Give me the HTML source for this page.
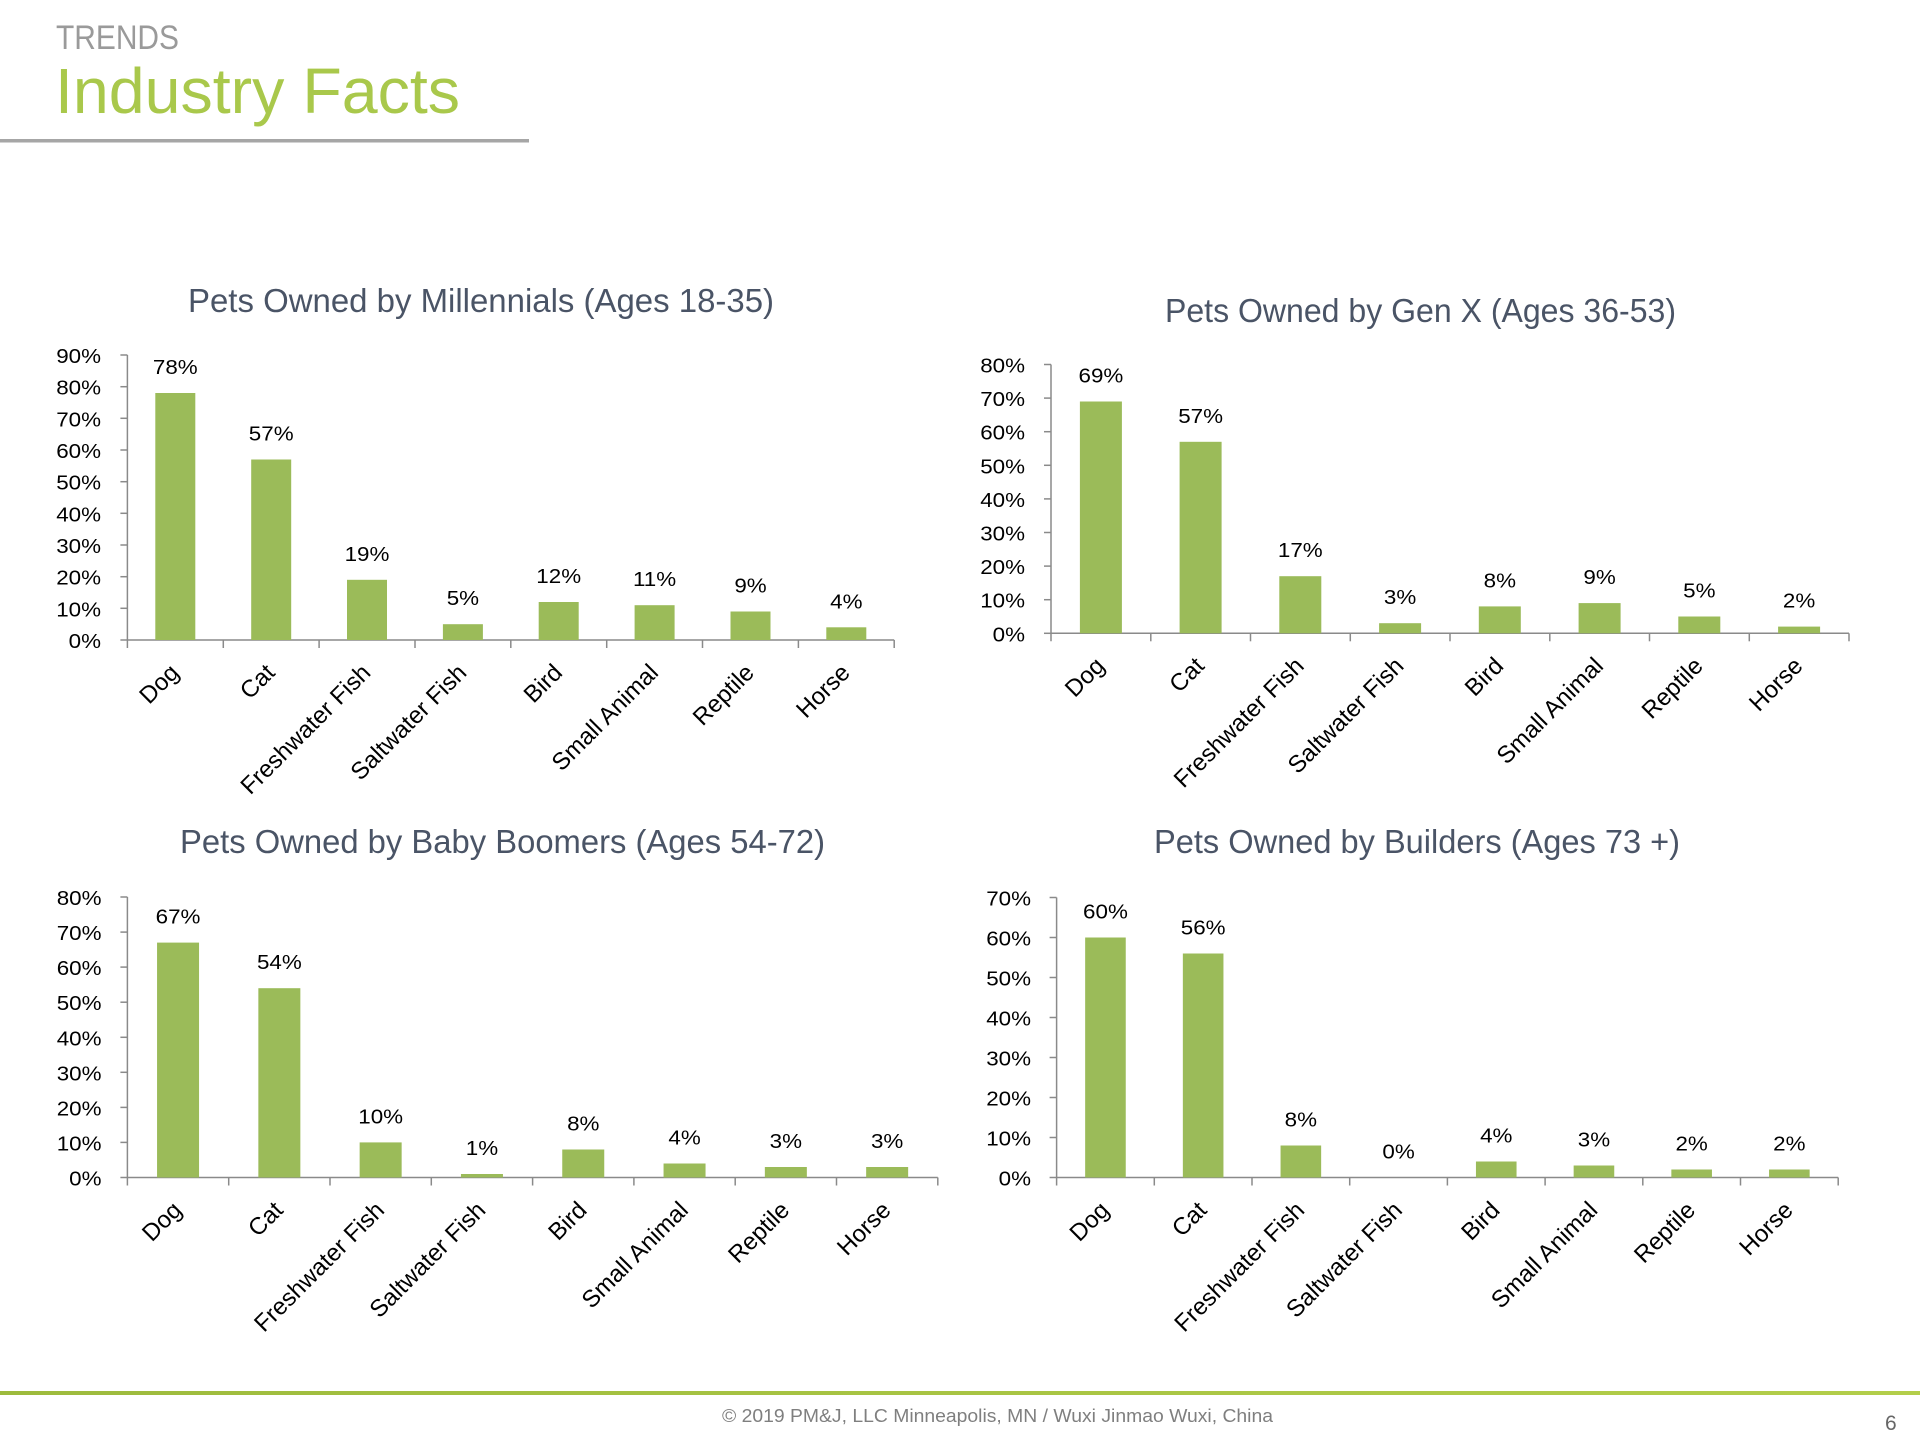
<!DOCTYPE html>
<html>
<head>
<meta charset="utf-8">
<style>
  html,body{margin:0;padding:0;background:#fff;}
  svg{display:block;}
  .tk{font-family:"Liberation Sans",sans-serif;font-size:20px;fill:#000;}
  .cat{font-family:"Liberation Sans",sans-serif;font-size:24px;fill:#000;}
  .ttl{font-family:"Liberation Sans",sans-serif;font-size:33px;fill:#4a5466;}
  .bar{fill:#9bbb59;}
  .ax{stroke:#8a8a8a;stroke-width:1.5;fill:none;}
</style>
</head>
<body>
<svg width="1920" height="1440" viewBox="0 0 1920 1440" xmlns="http://www.w3.org/2000/svg">
  <rect x="0" y="0" width="1920" height="1440" fill="#fff"/>

  <!-- Header -->
  <text x="56" y="49" font-family="Liberation Sans, sans-serif" font-size="34" fill="#9a9a9a" textLength="123" lengthAdjust="spacingAndGlyphs">TRENDS</text>
  <text x="55" y="113" font-family="Liberation Sans, sans-serif" font-size="64" fill="#a9c84b" textLength="405" lengthAdjust="spacingAndGlyphs">Industry Facts</text>
  <rect x="0" y="139" width="529" height="3.5" fill="#a6a6a6"/>

  <!-- ================= Chart 1: Millennials ================= -->
  <text class="ttl" x="481" y="312" text-anchor="middle" textLength="586" lengthAdjust="spacingAndGlyphs">Pets Owned by Millennials (Ages 18-35)</text>
  <g class="ax">
    <line x1="127.4" y1="355" x2="127.4" y2="648"/>
    <line x1="127.4" y1="640" x2="894.2" y2="640"/>
    <line x1="120.4" y1="640" x2="127.4" y2="640"/>
    <line x1="120.4" y1="608.3" x2="127.4" y2="608.3"/>
    <line x1="120.4" y1="576.7" x2="127.4" y2="576.7"/>
    <line x1="120.4" y1="545" x2="127.4" y2="545"/>
    <line x1="120.4" y1="513.3" x2="127.4" y2="513.3"/>
    <line x1="120.4" y1="481.7" x2="127.4" y2="481.7"/>
    <line x1="120.4" y1="450" x2="127.4" y2="450"/>
    <line x1="120.4" y1="418.3" x2="127.4" y2="418.3"/>
    <line x1="120.4" y1="386.7" x2="127.4" y2="386.7"/>
    <line x1="120.4" y1="355" x2="127.4" y2="355"/>
    <line x1="223.3" y1="640" x2="223.3" y2="648"/>
    <line x1="319.1" y1="640" x2="319.1" y2="648"/>
    <line x1="415.0" y1="640" x2="415.0" y2="648"/>
    <line x1="510.8" y1="640" x2="510.8" y2="648"/>
    <line x1="606.7" y1="640" x2="606.7" y2="648"/>
    <line x1="702.5" y1="640" x2="702.5" y2="648"/>
    <line x1="798.4" y1="640" x2="798.4" y2="648"/>
    <line x1="894.2" y1="640" x2="894.2" y2="648"/>
  </g>
  <g class="tk" text-anchor="end">
    <text transform="translate(101,648) scale(1.12,1)">0%</text>
    <text transform="translate(101,616.3) scale(1.12,1)">10%</text>
    <text transform="translate(101,584.7) scale(1.12,1)">20%</text>
    <text transform="translate(101,553) scale(1.12,1)">30%</text>
    <text transform="translate(101,521.3) scale(1.12,1)">40%</text>
    <text transform="translate(101,489.7) scale(1.12,1)">50%</text>
    <text transform="translate(101,458) scale(1.12,1)">60%</text>
    <text transform="translate(101,426.3) scale(1.12,1)">70%</text>
    <text transform="translate(101,394.7) scale(1.12,1)">80%</text>
    <text transform="translate(101,363) scale(1.12,1)">90%</text>
  </g>
  <g>
    <rect class="bar" x="155.3" y="393.0" width="40" height="247.0"/>
    <rect class="bar" x="251.2" y="459.5" width="40" height="180.5"/>
    <rect class="bar" x="347.0" y="579.8" width="40" height="60.2"/>
    <rect class="bar" x="442.9" y="624.2" width="40" height="15.8"/>
    <rect class="bar" x="538.7" y="602.0" width="40" height="38.0"/>
    <rect class="bar" x="634.6" y="605.2" width="40" height="34.8"/>
    <rect class="bar" x="730.5" y="611.5" width="40" height="28.5"/>
    <rect class="bar" x="826.3" y="627.3" width="40" height="12.7"/>
  </g>
  <g class="tk" text-anchor="middle">
    <text transform="translate(175.3,374.0) scale(1.12,1)">78%</text>
    <text transform="translate(271.2,440.5) scale(1.12,1)">57%</text>
    <text transform="translate(367.0,560.8) scale(1.12,1)">19%</text>
    <text transform="translate(462.9,605.2) scale(1.12,1)">5%</text>
    <text transform="translate(558.7,583.0) scale(1.12,1)">12%</text>
    <text transform="translate(654.6,586.2) scale(1.12,1)">11%</text>
    <text transform="translate(750.5,592.5) scale(1.12,1)">9%</text>
    <text transform="translate(846.3,608.3) scale(1.12,1)">4%</text>
  </g>
  <g class="cat" text-anchor="end">
    <text transform="translate(180.3,674) rotate(-45)">Dog</text>
    <text transform="translate(276.2,674) rotate(-45)">Cat</text>
    <text transform="translate(372.0,674) rotate(-45)">Freshwater Fish</text>
    <text transform="translate(467.9,674) rotate(-45)">Saltwater Fish</text>
    <text transform="translate(563.7,674) rotate(-45)">Bird</text>
    <text transform="translate(659.6,674) rotate(-45)">Small Animal</text>
    <text transform="translate(755.5,674) rotate(-45)">Reptile</text>
    <text transform="translate(851.3,674) rotate(-45)">Horse</text>
  </g>

  <!-- ================= Chart 2: Gen X ================= -->
  <text class="ttl" x="1420.5" y="322" text-anchor="middle" textLength="511" lengthAdjust="spacingAndGlyphs">Pets Owned by Gen X (Ages 36-53)</text>
  <g class="ax">
    <line x1="1051" y1="364.5" x2="1051" y2="641.3"/>
    <line x1="1051" y1="633.3" x2="1849" y2="633.3"/>
    <line x1="1044" y1="633.3" x2="1051" y2="633.3"/>
    <line x1="1044" y1="599.7" x2="1051" y2="599.7"/>
    <line x1="1044" y1="566.1" x2="1051" y2="566.1"/>
    <line x1="1044" y1="532.5" x2="1051" y2="532.5"/>
    <line x1="1044" y1="498.9" x2="1051" y2="498.9"/>
    <line x1="1044" y1="465.3" x2="1051" y2="465.3"/>
    <line x1="1044" y1="431.7" x2="1051" y2="431.7"/>
    <line x1="1044" y1="398.1" x2="1051" y2="398.1"/>
    <line x1="1044" y1="364.5" x2="1051" y2="364.5"/>
    <line x1="1150.8" y1="633.3" x2="1150.8" y2="641.3"/>
    <line x1="1250.5" y1="633.3" x2="1250.5" y2="641.3"/>
    <line x1="1350.3" y1="633.3" x2="1350.3" y2="641.3"/>
    <line x1="1450" y1="633.3" x2="1450" y2="641.3"/>
    <line x1="1549.8" y1="633.3" x2="1549.8" y2="641.3"/>
    <line x1="1649.5" y1="633.3" x2="1649.5" y2="641.3"/>
    <line x1="1749.3" y1="633.3" x2="1749.3" y2="641.3"/>
    <line x1="1849" y1="633.3" x2="1849" y2="641.3"/>
  </g>
  <g class="tk" text-anchor="end">
    <text transform="translate(1025,641.3) scale(1.12,1)">0%</text>
    <text transform="translate(1025,607.7) scale(1.12,1)">10%</text>
    <text transform="translate(1025,574.1) scale(1.12,1)">20%</text>
    <text transform="translate(1025,540.5) scale(1.12,1)">30%</text>
    <text transform="translate(1025,506.9) scale(1.12,1)">40%</text>
    <text transform="translate(1025,473.3) scale(1.12,1)">50%</text>
    <text transform="translate(1025,439.7) scale(1.12,1)">60%</text>
    <text transform="translate(1025,406.1) scale(1.12,1)">70%</text>
    <text transform="translate(1025,372.5) scale(1.12,1)">80%</text>
  </g>
  <g>
    <rect class="bar" x="1079.9" y="401.5" width="42" height="231.8"/>
    <rect class="bar" x="1179.6" y="441.8" width="42" height="191.5"/>
    <rect class="bar" x="1279.3" y="576.2" width="42" height="57.1"/>
    <rect class="bar" x="1379.1" y="623.2" width="42" height="10.1"/>
    <rect class="bar" x="1478.8" y="606.4" width="42" height="26.9"/>
    <rect class="bar" x="1578.6" y="603.1" width="42" height="30.2"/>
    <rect class="bar" x="1678.3" y="616.5" width="42" height="16.8"/>
    <rect class="bar" x="1778.1" y="626.6" width="42" height="6.7"/>
  </g>
  <g class="tk" text-anchor="middle">
    <text transform="translate(1100.9,382.5) scale(1.12,1)">69%</text>
    <text transform="translate(1200.6,422.8) scale(1.12,1)">57%</text>
    <text transform="translate(1300.3,557.2) scale(1.12,1)">17%</text>
    <text transform="translate(1400.1,604.2) scale(1.12,1)">3%</text>
    <text transform="translate(1499.8,587.4) scale(1.12,1)">8%</text>
    <text transform="translate(1599.6,584.1) scale(1.12,1)">9%</text>
    <text transform="translate(1699.3,597.5) scale(1.12,1)">5%</text>
    <text transform="translate(1799.1,607.6) scale(1.12,1)">2%</text>
  </g>
  <g class="cat" text-anchor="end">
    <text transform="translate(1105.9,667.3) rotate(-45)">Dog</text>
    <text transform="translate(1205.6,667.3) rotate(-45)">Cat</text>
    <text transform="translate(1305.3,667.3) rotate(-45)">Freshwater Fish</text>
    <text transform="translate(1405.1,667.3) rotate(-45)">Saltwater Fish</text>
    <text transform="translate(1504.8,667.3) rotate(-45)">Bird</text>
    <text transform="translate(1604.6,667.3) rotate(-45)">Small Animal</text>
    <text transform="translate(1704.3,667.3) rotate(-45)">Reptile</text>
    <text transform="translate(1804.1,667.3) rotate(-45)">Horse</text>
  </g>

  <!-- ================= Chart 3: Baby Boomers ================= -->
  <text class="ttl" x="502.5" y="853" text-anchor="middle" textLength="645" lengthAdjust="spacingAndGlyphs">Pets Owned by Baby Boomers (Ages 54-72)</text>
  <g class="ax">
    <line x1="127.4" y1="897" x2="127.4" y2="1185.5"/>
    <line x1="127.4" y1="1177.5" x2="937.8" y2="1177.5"/>
    <line x1="120.4" y1="1177.5" x2="127.4" y2="1177.5"/>
    <line x1="120.4" y1="1142.4" x2="127.4" y2="1142.4"/>
    <line x1="120.4" y1="1107.4" x2="127.4" y2="1107.4"/>
    <line x1="120.4" y1="1072.3" x2="127.4" y2="1072.3"/>
    <line x1="120.4" y1="1037.3" x2="127.4" y2="1037.3"/>
    <line x1="120.4" y1="1002.2" x2="127.4" y2="1002.2"/>
    <line x1="120.4" y1="967.1" x2="127.4" y2="967.1"/>
    <line x1="120.4" y1="932.1" x2="127.4" y2="932.1"/>
    <line x1="120.4" y1="897" x2="127.4" y2="897"/>
    <line x1="228.7" y1="1177.5" x2="228.7" y2="1185.5"/>
    <line x1="330.0" y1="1177.5" x2="330.0" y2="1185.5"/>
    <line x1="431.3" y1="1177.5" x2="431.3" y2="1185.5"/>
    <line x1="532.6" y1="1177.5" x2="532.6" y2="1185.5"/>
    <line x1="633.9" y1="1177.5" x2="633.9" y2="1185.5"/>
    <line x1="735.2" y1="1177.5" x2="735.2" y2="1185.5"/>
    <line x1="836.5" y1="1177.5" x2="836.5" y2="1185.5"/>
    <line x1="937.8" y1="1177.5" x2="937.8" y2="1185.5"/>
  </g>
  <g class="tk" text-anchor="end">
    <text transform="translate(101.5,1185.5) scale(1.12,1)">0%</text>
    <text transform="translate(101.5,1150.4) scale(1.12,1)">10%</text>
    <text transform="translate(101.5,1115.4) scale(1.12,1)">20%</text>
    <text transform="translate(101.5,1080.3) scale(1.12,1)">30%</text>
    <text transform="translate(101.5,1045.3) scale(1.12,1)">40%</text>
    <text transform="translate(101.5,1010.2) scale(1.12,1)">50%</text>
    <text transform="translate(101.5,975.1) scale(1.12,1)">60%</text>
    <text transform="translate(101.5,940.1) scale(1.12,1)">70%</text>
    <text transform="translate(101.5,905) scale(1.12,1)">80%</text>
  </g>
  <g>
    <rect class="bar" x="157.05" y="942.6" width="42" height="234.9"/>
    <rect class="bar" x="258.35" y="988.2" width="42" height="189.3"/>
    <rect class="bar" x="359.65" y="1142.4" width="42" height="35.1"/>
    <rect class="bar" x="460.95" y="1174.0" width="42" height="3.5"/>
    <rect class="bar" x="562.25" y="1149.5" width="42" height="28.0"/>
    <rect class="bar" x="663.55" y="1163.5" width="42" height="14.0"/>
    <rect class="bar" x="764.85" y="1167.0" width="42" height="10.5"/>
    <rect class="bar" x="866.15" y="1167.0" width="42" height="10.5"/>
  </g>
  <g class="tk" text-anchor="middle">
    <text transform="translate(178.05,923.6) scale(1.12,1)">67%</text>
    <text transform="translate(279.35,969.2) scale(1.12,1)">54%</text>
    <text transform="translate(380.65,1123.4) scale(1.12,1)">10%</text>
    <text transform="translate(481.95,1155.0) scale(1.12,1)">1%</text>
    <text transform="translate(583.25,1130.5) scale(1.12,1)">8%</text>
    <text transform="translate(684.55,1144.5) scale(1.12,1)">4%</text>
    <text transform="translate(785.85,1148.0) scale(1.12,1)">3%</text>
    <text transform="translate(887.15,1148.0) scale(1.12,1)">3%</text>
  </g>
  <g class="cat" text-anchor="end">
    <text transform="translate(183.05,1211.5) rotate(-45)">Dog</text>
    <text transform="translate(284.35,1211.5) rotate(-45)">Cat</text>
    <text transform="translate(385.65,1211.5) rotate(-45)">Freshwater Fish</text>
    <text transform="translate(486.95,1211.5) rotate(-45)">Saltwater Fish</text>
    <text transform="translate(588.25,1211.5) rotate(-45)">Bird</text>
    <text transform="translate(689.55,1211.5) rotate(-45)">Small Animal</text>
    <text transform="translate(790.85,1211.5) rotate(-45)">Reptile</text>
    <text transform="translate(892.15,1211.5) rotate(-45)">Horse</text>
  </g>

  <!-- ================= Chart 4: Builders ================= -->
  <text class="ttl" x="1417" y="853" text-anchor="middle" textLength="526" lengthAdjust="spacingAndGlyphs">Pets Owned by Builders (Ages 73 +)</text>
  <g class="ax">
    <line x1="1056.6" y1="897.5" x2="1056.6" y2="1185.5"/>
    <line x1="1056.6" y1="1177.5" x2="1838.2" y2="1177.5"/>
    <line x1="1049.6" y1="1177.5" x2="1056.6" y2="1177.5"/>
    <line x1="1049.6" y1="1137.5" x2="1056.6" y2="1137.5"/>
    <line x1="1049.6" y1="1097.5" x2="1056.6" y2="1097.5"/>
    <line x1="1049.6" y1="1057.5" x2="1056.6" y2="1057.5"/>
    <line x1="1049.6" y1="1017.5" x2="1056.6" y2="1017.5"/>
    <line x1="1049.6" y1="977.5" x2="1056.6" y2="977.5"/>
    <line x1="1049.6" y1="937.5" x2="1056.6" y2="937.5"/>
    <line x1="1049.6" y1="897.5" x2="1056.6" y2="897.5"/>
    <line x1="1154.3" y1="1177.5" x2="1154.3" y2="1185.5"/>
    <line x1="1252.0" y1="1177.5" x2="1252.0" y2="1185.5"/>
    <line x1="1349.7" y1="1177.5" x2="1349.7" y2="1185.5"/>
    <line x1="1447.4" y1="1177.5" x2="1447.4" y2="1185.5"/>
    <line x1="1545.1" y1="1177.5" x2="1545.1" y2="1185.5"/>
    <line x1="1642.8" y1="1177.5" x2="1642.8" y2="1185.5"/>
    <line x1="1740.5" y1="1177.5" x2="1740.5" y2="1185.5"/>
    <line x1="1838.2" y1="1177.5" x2="1838.2" y2="1185.5"/>
  </g>
  <g class="tk" text-anchor="end">
    <text transform="translate(1031,1185.5) scale(1.12,1)">0%</text>
    <text transform="translate(1031,1145.5) scale(1.12,1)">10%</text>
    <text transform="translate(1031,1105.5) scale(1.12,1)">20%</text>
    <text transform="translate(1031,1065.5) scale(1.12,1)">30%</text>
    <text transform="translate(1031,1025.5) scale(1.12,1)">40%</text>
    <text transform="translate(1031,985.5) scale(1.12,1)">50%</text>
    <text transform="translate(1031,945.5) scale(1.12,1)">60%</text>
    <text transform="translate(1031,905.5) scale(1.12,1)">70%</text>
  </g>
  <g>
    <rect class="bar" x="1085.15" y="937.5" width="40.6" height="240"/>
    <rect class="bar" x="1182.85" y="953.5" width="40.6" height="224"/>
    <rect class="bar" x="1280.55" y="1145.5" width="40.6" height="32"/>
    <rect class="bar" x="1475.95" y="1161.5" width="40.6" height="16"/>
    <rect class="bar" x="1573.65" y="1165.5" width="40.6" height="12"/>
    <rect class="bar" x="1671.35" y="1169.5" width="40.6" height="8"/>
    <rect class="bar" x="1769.05" y="1169.5" width="40.6" height="8"/>
  </g>
  <g class="tk" text-anchor="middle">
    <text transform="translate(1105.45,918.5) scale(1.12,1)">60%</text>
    <text transform="translate(1203.15,934.5) scale(1.12,1)">56%</text>
    <text transform="translate(1300.85,1126.5) scale(1.12,1)">8%</text>
    <text transform="translate(1398.55,1158.5) scale(1.12,1)">0%</text>
    <text transform="translate(1496.25,1142.5) scale(1.12,1)">4%</text>
    <text transform="translate(1593.95,1146.5) scale(1.12,1)">3%</text>
    <text transform="translate(1691.65,1150.5) scale(1.12,1)">2%</text>
    <text transform="translate(1789.35,1150.5) scale(1.12,1)">2%</text>
  </g>
  <g class="cat" text-anchor="end">
    <text transform="translate(1110.45,1211.5) rotate(-45)">Dog</text>
    <text transform="translate(1208.15,1211.5) rotate(-45)">Cat</text>
    <text transform="translate(1305.85,1211.5) rotate(-45)">Freshwater Fish</text>
    <text transform="translate(1403.55,1211.5) rotate(-45)">Saltwater Fish</text>
    <text transform="translate(1501.25,1211.5) rotate(-45)">Bird</text>
    <text transform="translate(1598.95,1211.5) rotate(-45)">Small Animal</text>
    <text transform="translate(1696.65,1211.5) rotate(-45)">Reptile</text>
    <text transform="translate(1794.35,1211.5) rotate(-45)">Horse</text>
  </g>

  <!-- Footer -->
  <defs>
    <linearGradient id="gl" x1="0" y1="0" x2="1" y2="0">
      <stop offset="0" stop-color="#9dbb3d"/>
      <stop offset="1" stop-color="#b3ce4a"/>
    </linearGradient>
  </defs>
  <rect x="0" y="1391" width="1920" height="4" fill="url(#gl)"/>
  <text x="722" y="1422" font-family="Liberation Sans, sans-serif" font-size="18" fill="#7f7f7f" textLength="551" lengthAdjust="spacingAndGlyphs">© 2019 PM&amp;J, LLC  Minneapolis, MN  /  Wuxi Jinmao  Wuxi, China</text>
  <text x="1885" y="1430" font-family="Liberation Sans, sans-serif" font-size="21" fill="#666">6</text>
</svg>
</body>
</html>
